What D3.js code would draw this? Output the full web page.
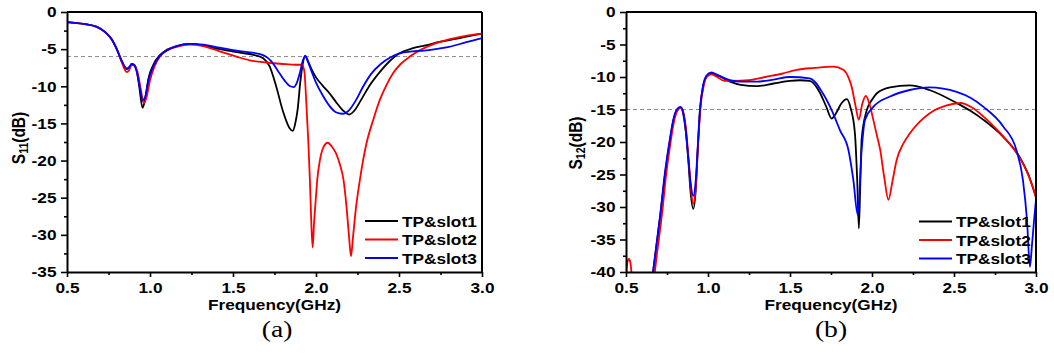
<!DOCTYPE html>
<html><head><meta charset="utf-8">
<script src="https://cdn.jsdelivr.net/npm/d3@7"></script>
<style>body{margin:0;background:#fff} svg{display:block}</style>
</head><body><svg width="1054" height="356"></svg>
<script>
// ---------- data ----------
const freqTicks = [0.5, 1.0, 1.5, 2.0, 2.5, 3.0];
const freqMinor = [0.75, 1.25, 1.75, 2.25, 2.75];
const s11Ticks = [0, -5, -10, -15, -20, -25, -30, -35];
const s11Minor = [-2.5, -7.5, -12.5, -17.5, -22.5, -27.5, -32.5];
const s12Ticks = [0, -5, -10, -15, -20, -25, -30, -35, -40];
const s12Minor = [-2.5, -7.5, -12.5, -17.5, -22.5, -27.5, -32.5, -37.5];
const seriesNames = ["TP&slot1", "TP&slot2", "TP&slot3"];
const panelTags = ["(a)", "(b)"];
const s11Ref = -6;
const s12Ref = -15;

// S11 (f GHz, dB)
const s11Slot1 = [[0.5,-1.35],[0.6,-1.6],[0.68,-2.0],[0.73,-2.7],[0.77,-3.7],[0.80,-5.0],[0.83,-6.6],[0.86,-7.7],[0.875,-7.5],[0.89,-7.0],[0.905,-7.1],[0.92,-7.9],[0.935,-10],[0.955,-12.9],[0.97,-11.8],[0.99,-9.0],[1.02,-7.1],[1.06,-5.8],[1.1,-5.1],[1.16,-4.6],[1.24,-4.3],[1.32,-4.5],[1.42,-5.0],[1.55,-5.5],[1.63,-5.8],[1.68,-6.2],[1.72,-7.3],[1.76,-10.0],[1.80,-13.3],[1.84,-15.6],[1.86,-16.0],[1.875,-15.0],[1.89,-13.0],[1.905,-9.5],[1.92,-7.0],[1.935,-5.9],[1.95,-6.5],[1.975,-7.8],[2.0,-8.8],[2.04,-9.9],[2.08,-10.9],[2.12,-12.1],[2.16,-13.2],[2.2,-13.8],[2.23,-13.3],[2.27,-11.9],[2.32,-10.0],[2.38,-8.2],[2.44,-6.7],[2.5,-5.6],[2.58,-4.9],[2.66,-4.5],[2.75,-4.0],[2.85,-3.6],[2.93,-3.2],[3.0,-2.9]];
const s11Slot2 = [[0.5,-1.35],[0.6,-1.6],[0.68,-2.0],[0.73,-2.7],[0.77,-3.7],[0.80,-5.0],[0.83,-6.8],[0.86,-8.1],[0.875,-7.8],[0.89,-7.1],[0.905,-7.2],[0.925,-8.1],[0.945,-10.5],[0.963,-12.3],[0.98,-11.4],[1.0,-9.2],[1.03,-7.2],[1.06,-6.0],[1.1,-5.2],[1.16,-4.7],[1.24,-4.4],[1.32,-4.6],[1.42,-5.3],[1.52,-6.0],[1.6,-6.5],[1.7,-6.8],[1.8,-7.0],[1.88,-7.1],[1.915,-7.1],[1.93,-8.0],[1.94,-11.5],[1.954,-17.6],[1.963,-22.5],[1.972,-28.5],[1.98,-31.7],[1.988,-28.5],[2.0,-24.8],[2.008,-22.5],[2.024,-19.9],[2.045,-18.2],[2.07,-17.6],[2.095,-18.1],[2.12,-19.0],[2.145,-20.6],[2.165,-22.5],[2.185,-26.5],[2.2,-30.5],[2.211,-32.9],[2.222,-30.5],[2.24,-26.5],[2.265,-22.5],[2.285,-19.8],[2.305,-17.6],[2.345,-14.5],[2.385,-11.8],[2.425,-9.8],[2.465,-8.2],[2.51,-7.0],[2.565,-6.0],[2.63,-5.1],[2.7,-4.4],[2.8,-3.7],[2.9,-3.2],[3.0,-2.9]];
const s11Slot3 = [[0.5,-1.35],[0.6,-1.6],[0.68,-2.0],[0.73,-2.7],[0.77,-3.7],[0.80,-5.0],[0.83,-6.6],[0.86,-7.6],[0.875,-7.4],[0.89,-7.0],[0.905,-7.2],[0.92,-8.0],[0.94,-10.3],[0.955,-11.9],[0.97,-11.5],[0.99,-9.3],[1.02,-7.3],[1.06,-5.9],[1.1,-5.2],[1.16,-4.6],[1.24,-4.3],[1.32,-4.4],[1.42,-4.8],[1.55,-5.3],[1.65,-5.6],[1.69,-5.9],[1.73,-6.6],[1.77,-7.9],[1.81,-9.2],[1.845,-10.0],[1.865,-10.1],[1.885,-9.5],[1.905,-8.0],[1.92,-6.6],[1.935,-5.9],[1.95,-6.6],[1.975,-8.1],[2.0,-9.5],[2.04,-11.2],[2.08,-12.6],[2.12,-13.5],[2.16,-13.7],[2.2,-13.2],[2.24,-11.9],[2.28,-10.2],[2.33,-8.4],[2.39,-7.0],[2.45,-6.1],[2.5,-5.6],[2.58,-5.3],[2.65,-5.2],[2.72,-5.0],[2.8,-4.7],[2.9,-4.1],[3.0,-3.5]];

// S12 (f GHz, dB)
const s12Slot1 = [[0.655,-42],[0.68,-37],[0.71,-31],[0.738,-25],[0.768,-19.8],[0.79,-16.6],[0.81,-15.1],[0.833,-14.7],[0.85,-15.8],[0.865,-18.5],[0.88,-22.8],[0.893,-27.5],[0.91,-30.3],[0.925,-27.5],[0.938,-21],[0.951,-15.1],[0.97,-11.5],[0.99,-10.0],[1.02,-9.5],[1.06,-9.8],[1.134,-10.7],[1.2,-11.2],[1.3,-11.4],[1.4,-11.0],[1.5,-10.6],[1.56,-10.5],[1.62,-10.6],[1.68,-12.3],[1.72,-14.5],[1.754,-16.4],[1.78,-15.6],[1.815,-14.0],[1.846,-13.4],[1.87,-14.8],[1.896,-18.7],[1.91,-26],[1.92,-33.3],[1.93,-25],[1.937,-19.5],[1.968,-15.1],[2.0,-13.5],[2.03,-12.5],[2.11,-11.6],[2.23,-11.3],[2.35,-12.0],[2.516,-14.0],[2.6,-15.2],[2.68,-16.6],[2.8,-19.2],[2.9,-22.3],[2.95,-24.8],[3.0,-28.5]];
const s12Slot2 = [[0.5,-40.5],[0.508,-38.6],[0.518,-38.0],[0.527,-38.6],[0.535,-40.5],[0.55,-44],[0.64,-45],[0.665,-42],[0.69,-37],[0.72,-31],[0.745,-25],[0.772,-20],[0.795,-16.6],[0.815,-15.1],[0.836,-14.7],[0.853,-15.8],[0.868,-18.5],[0.882,-22.8],[0.895,-27],[0.91,-29.5],[0.925,-27],[0.94,-20],[0.955,-14.5],[0.975,-11.2],[0.995,-9.9],[1.02,-9.6],[1.05,-9.9],[1.1,-10.6],[1.15,-10.6],[1.25,-10.5],[1.35,-10.0],[1.45,-9.5],[1.54,-8.9],[1.65,-8.6],[1.764,-8.4],[1.825,-8.9],[1.86,-10.3],[1.876,-11.5],[1.9,-14.5],[1.92,-16.6],[1.94,-14.2],[1.963,-12.9],[1.985,-14.2],[2.008,-16.6],[2.03,-19.0],[2.05,-21.2],[2.075,-25.5],[2.1,-28.9],[2.125,-26],[2.15,-22.8],[2.19,-20.3],[2.23,-18.7],[2.29,-16.9],[2.35,-15.6],[2.45,-14.4],[2.54,-14.0],[2.61,-14.7],[2.68,-16.1],[2.75,-17.8],[2.82,-19.7],[2.92,-23.3],[2.96,-25.5],[3.0,-28.5]];
const s12Slot3 = [[0.655,-42],[0.68,-37],[0.71,-31],[0.736,-25],[0.766,-19.8],[0.788,-16.6],[0.808,-15.1],[0.832,-14.6],[0.85,-15.6],[0.865,-18.3],[0.88,-22.5],[0.895,-26.5],[0.91,-28.3],[0.925,-26],[0.938,-20.5],[0.951,-15.1],[0.97,-11.3],[0.99,-9.8],[1.02,-9.3],[1.06,-9.7],[1.134,-10.5],[1.2,-10.7],[1.3,-10.7],[1.4,-10.4],[1.5,-10.0],[1.62,-10.2],[1.70,-12.5],[1.754,-15.1],[1.805,-18.2],[1.856,-21.2],[1.886,-25.8],[1.913,-31.2],[1.937,-21.2],[1.957,-16.6],[2.008,-14.6],[2.11,-13.0],[2.23,-12.0],[2.35,-11.6],[2.516,-12.3],[2.6,-13.2],[2.68,-14.6],[2.8,-17.6],[2.88,-21.2],[2.92,-25.8],[2.945,-32],[2.963,-39.2],[2.975,-36],[2.99,-31.5],[3.0,-28.9]];

// ---------- style ----------
const colors = ["#000000", "#ff0000", "#0000ff"];
const FONT = "'Liberation Sans', Arial, sans-serif";
const SX = 1.15; // horizontal stretch of the source image text

const svg = d3.select("svg");

function panel(cfg) {
  const x = d3.scaleLinear().domain([0.5, 3.0]).range([cfg.x0, cfg.x1]);
  const y = d3.scaleLinear().domain([cfg.yMin, 0]).range([cfg.y1, cfg.y0]);
  const g = svg.append("g");

  const clipId = "clip" + cfg.id;
  g.append("clipPath").attr("id", clipId).append("rect")
    .attr("x", cfg.x0).attr("y", cfg.y0)
    .attr("width", cfg.x1 - cfg.x0).attr("height", cfg.y1 - cfg.y0);

  // reference dashed line
  g.append("line")
    .attr("x1", x(0.5)).attr("x2", x(3.0))
    .attr("y1", y(cfg.ref)).attr("y2", y(cfg.ref))
    .attr("stroke", "#8a8a8a").attr("stroke-width", 1)
    .attr("stroke-dasharray", "4,3");

  const line = d3.line().x(d => x(d[0])).y(d => y(d[1])).curve(d3.curveMonotoneX);
  const plot = g.append("g").attr("clip-path", `url(#${clipId})`);
  cfg.series.forEach((s, i) => {
    plot.append("path").datum(s).attr("d", line)
      .attr("fill", "none").attr("stroke", colors[i])
      .attr("stroke-width", 1.8).attr("stroke-linejoin", "round");
  });

  // frame top / right
  g.append("line").attr("x1", cfg.x0).attr("x2", cfg.x1).attr("y1", cfg.y0).attr("y2", cfg.y0)
    .attr("stroke", "#000").attr("stroke-width", 2);
  g.append("line").attr("x1", cfg.x1).attr("x2", cfg.x1).attr("y1", cfg.y0).attr("y2", cfg.y1)
    .attr("stroke", "#000").attr("stroke-width", 2);

  // axes
  const xa = g.append("g").attr("transform", `translate(0,${cfg.y1})`)
    .call(d3.axisBottom(x).tickValues(freqTicks).tickSize(5).tickSizeOuter(0)
      .tickPadding(5).tickFormat(d3.format(".1f")));
  const xm = g.append("g").attr("transform", `translate(0,${cfg.y1})`)
    .call(d3.axisBottom(x).tickValues(freqMinor).tickSize(3).tickSizeOuter(0).tickFormat(""));
  xm.select(".domain").remove();
  const ya = g.append("g").attr("transform", `translate(${cfg.x0},0)`)
    .call(d3.axisLeft(y).tickValues(cfg.yTicks).tickSize(6).tickSizeOuter(0)
      .tickFormat(d => String(d)));
  const ym = g.append("g").attr("transform", `translate(${cfg.x0},0)`)
    .call(d3.axisLeft(y).tickValues(cfg.yMinor).tickSize(3).tickSizeOuter(0).tickFormat(""));
  ym.select(".domain").remove();

  [xa, ya].forEach(a => {
    a.select(".domain").attr("stroke-width", 2);
    a.selectAll(".tick line").attr("stroke-width", 1.6);
    a.selectAll("text").attr("font-family", FONT).attr("font-weight", "bold")
      .attr("font-size", 15).attr("fill", "#000");
  });
  [xm, ym].forEach(a => a.selectAll(".tick line").attr("stroke-width", 1.6));
  xa.selectAll("text").attr("transform", `scale(${SX},1)`);
  ya.selectAll("text").attr("x", 0).attr("transform", `translate(-10.5,0) scale(${SX},1)`);

  // axis titles
  const cx = (cfg.x0 + cfg.x1) / 2;
  g.append("text").attr("transform", `translate(${cx},310) scale(${SX},1)`)
    .attr("text-anchor", "middle").attr("font-family", FONT).attr("font-weight", "bold")
    .attr("font-size", 15).text("Frequency(GHz)");

  const yl = g.append("text")
    .attr("transform", `translate(${cfg.yLabelX},${cfg.yLabelY}) rotate(-90) scale(1,${SX})`)
    .attr("text-anchor", "middle").attr("font-family", FONT).attr("font-weight", "bold")
    .attr("font-size", 15.5);
  yl.append("tspan").text("S");
  yl.append("tspan").attr("font-size", 10.5).attr("dy", 3).text(cfg.sub);
  yl.append("tspan").attr("dy", -3).text("(dB)");

  // panel tag
  g.append("text").attr("transform", `translate(${cfg.tagX},337) scale(${SX},1)`)
    .attr("text-anchor", "middle").attr("font-family", "'Liberation Serif', 'Times New Roman', serif")
    .attr("font-size", 24).text(cfg.tag);

  // legend
  const lg = g.append("g");
  seriesNames.forEach((n, i) => {
    const ly = cfg.legY[i];
    lg.append("line").attr("x1", cfg.x1 - 117).attr("x2", cfg.x1 - 84)
      .attr("y1", ly).attr("y2", ly).attr("stroke", colors[i]).attr("stroke-width", 2);
    lg.append("text").attr("transform", `translate(${cfg.x1 - 80},${ly + 5.5}) scale(${SX},1)`)
      .attr("font-family", FONT).attr("font-weight", "bold").attr("font-size", 15).text(n);
  });
}

panel({ id: "a", x0: 67, x1: 482, y0: 12, y1: 272, yMin: -35, yTicks: s11Ticks, yMinor: s11Minor,
  ref: s11Ref, series: [s11Slot1, s11Slot2, s11Slot3], sub: "11", yLabelX: 25, yLabelY: 138,
  tag: panelTags[0], tagX: 277, legY: [221, 239.5, 258] });
panel({ id: "b", x0: 626, x1: 1036, y0: 12, y1: 272, yMin: -40, yTicks: s12Ticks, yMinor: s12Minor,
  ref: s12Ref, series: [s12Slot1, s12Slot2, s12Slot3], sub: "12", yLabelX: 582, yLabelY: 143,
  tag: panelTags[1], tagX: 831, legY: [221.5, 240, 258.5] });
</script>
</body></html>
